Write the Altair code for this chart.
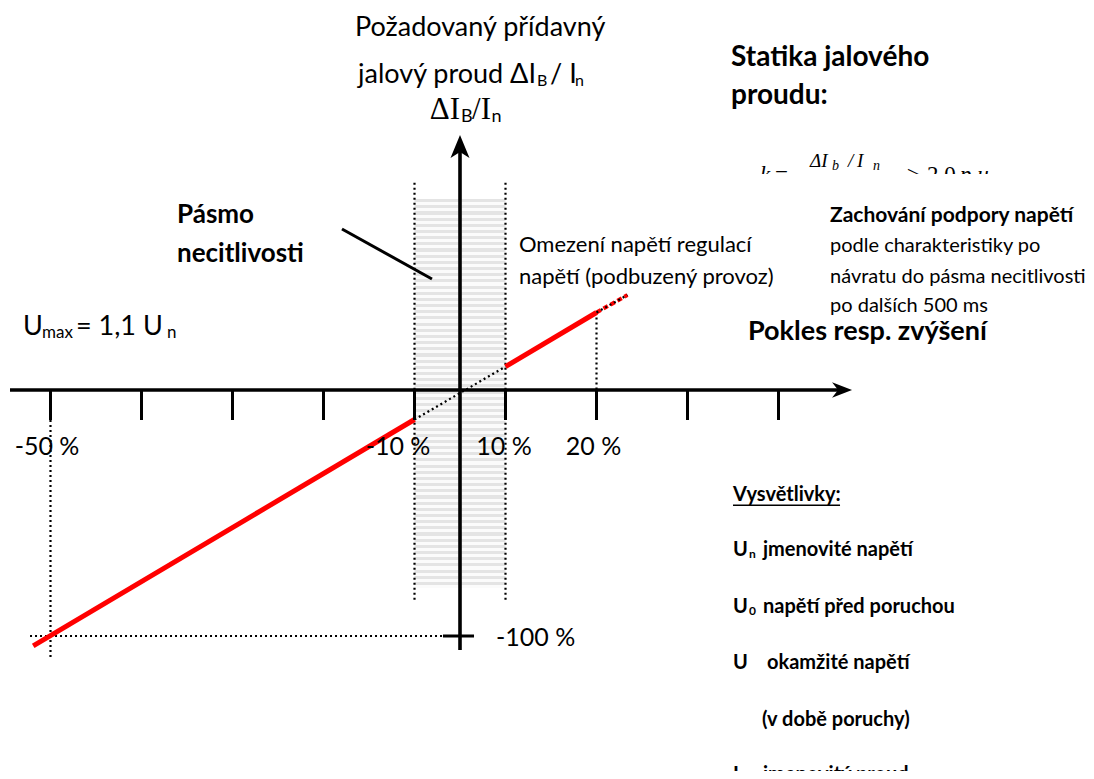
import altair as alt
import pandas as pd

# ---------------- values ----------------
# x in diagram steps (one step = 10 % voltage outside the dead band, 0 = U0)
# y in % of I_n
tick_u = [-4.5, -3.5, -2.5, -1.5, -0.5, 0.5, 1.5, 2.5, 3.5]
x_labels = ["-50 %", "-10 %", "10 %", "20 %"]
x_label_u = [-4.538, -0.681, 0.484, 1.467]
y_label = ["-100 %"]
y_label_v = [-100.8]

red_low_u = [-4.69, -0.5]
red_low_v = [-104.0, -12.0]
red_up_u = [0.5, 1.5]
red_up_v = [9.5, 31.5]
red_ext_u = [1.5, 1.84]
red_ext_v = [31.5, 38.6]
mid_u = [-0.5, 0.5]
mid_v = [-12.0, 9.5]

dead_band_u = [-0.5, 0.5]
dead_band_v = [77.6, -80.5]
dead_edge_v = [84.2, -85.4]

# ---------------- scales (diagram -> pixels) ----------------
W, H = 1078, 763
xs = alt.Scale(domain=[-4.967, 6.879], nice=False, zero=False)
ys = alt.Scale(domain=[-154.88, 155.28], nice=False, zero=False)
SANS = "Lato"
SERIF = "Liberation Serif"


def X(f):
    return alt.X(f"{f}:Q", scale=xs, axis=None)


def Y(f):
    return alt.Y(f"{f}:Q", scale=ys, axis=None)


def rules(rows, **kw):
    df = pd.DataFrame(rows, columns=["u", "v", "u2", "v2"])
    return alt.Chart(df).mark_rule(**kw).encode(
        x=X("u"), y=Y("v"), x2="u2:Q", y2="v2:Q")


def line(us, vs, **kw):
    df = pd.DataFrame({"u": us, "v": vs})
    return alt.Chart(df).mark_line(**kw).encode(x=X("u"), y=Y("v"))


def texts(rows, **kw):
    df = pd.DataFrame(rows, columns=["u", "v", "t"])
    kw.setdefault("align", "left")
    kw.setdefault("baseline", "middle")
    kw.setdefault("color", "black")
    return alt.Chart(df).mark_text(**kw).encode(x=X("u"), y=Y("v"), text="t:N")


DOT = dict(color="black", strokeWidth=2.2, strokeDash=[2, 3])

# dead band with thin horizontal hatching
n_str = 63
stops = []
for i in range(n_str):
    a, b, c = i / n_str, (i + 0.5) / n_str, (i + 1) / n_str
    stops += [{"offset": a, "color": "#e4e4e4"}, {"offset": b, "color": "#e4e4e4"},
              {"offset": b, "color": "#fbfbfb"}, {"offset": c, "color": "#fbfbfb"}]
band_df = pd.DataFrame({"u": [dead_band_u[0]], "u2": [dead_band_u[1]],
                        "v": [dead_band_v[0]], "v2": [dead_band_v[1]]})
band = alt.Chart(band_df).mark_rect(
    fill={"gradient": "linear", "x1": 0, "y1": 0, "x2": 0, "y2": 1, "stops": stops}
).encode(x=X("u"), x2="u2:Q", y=Y("v"), y2="v2:Q")

edges = rules([[u, dead_edge_v[0], u, dead_edge_v[1]] for u in dead_band_u], **DOT)

helpers = rules([
    [1.5, red_up_v[1], 1.5, 0],
    [-4.5, 0, -4.5, -109.8],
    [-4.725, -100, -0.187, -100],
], **DOT)

axes = rules([[-4.945, 0, 4.25, 0], [0, -105.7, 0, 100.0]], color="black", strokeWidth=3.6)
ticks = rules([[u, 0, u, -12.2] for u in tick_u] + [[-0.187, -100, 0.154, -100]],
              color="black", strokeWidth=3)

arrow_x = alt.Chart(pd.DataFrame({"u": [4.308], "v": [0.0]})).mark_point(
    shape="M0,0L-2,-0.78L-1.4,0L-2,0.78Z", size=400, filled=True, color="black",
    opacity=1, strokeWidth=0).encode(x=X("u"), y=Y("v"))
arrow_y = alt.Chart(pd.DataFrame({"u": [0.0], "v": [103.66]})).mark_point(
    shape="M0,0L-0.95,2.3L0,1.7L0.95,2.3Z", size=400, filled=True, color="black",
    opacity=1, strokeWidth=0).encode(x=X("u"), y=Y("v"))

red_lo = line(red_low_u, red_low_v, color="#ff0000", strokeWidth=5)
red_hi = line(red_up_u, red_up_v, color="#ff0000", strokeWidth=5)
red_ex = line(red_ext_u, red_ext_v, color="#ff0000", strokeWidth=4, strokeDash=[5, 3])
dot_ex = line(red_ext_u, red_ext_v, **DOT)
dot_mid = line(mid_u, mid_v, **DOT)

pointer = rules([[-1.297, 65.45, -0.308, 45.12]], color="black", strokeWidth=3)

# ---------------- texts ----------------
t_title = texts([[-1.154, 147.15, "Požadovaný přídavný"]], font=SANS, fontSize=27)
t_title2 = texts([[0.835, 128.05, "jalový proud ΔI"]], font=SANS, fontSize=27, align="right")
t_title3 = texts([[0.99, 128.05, "/ I"]], font=SANS, fontSize=27)
t_title_sub = texts([[0.846, 125.6, "B"], [1.264, 125.6, "n"]], font=SANS, fontSize=16)

t_big1 = texts([[0.0, 113.8, "ΔI"]], font=SERIF, fontSize=31, align="right")
t_big2 = texts([[0.132, 113.8, "/I"]], font=SERIF, fontSize=31)
t_big_sub = texts([[0.011, 111.0, "B"], [0.345, 111.0, "n"]], font=SANS, fontSize=18)

t_stat = texts([[2.978, 134.9, "Statika jalového"], [2.978, 119.5, "proudu:"]],
               font=SANS, fontSize=28, fontWeight="bold")

f_big_i = texts([[3.297, 84.55, "k"], [5.495, 84.55, "p.u."]], font=SERIF, fontSize=23,
                fontStyle="italic", baseline="alphabetic")
f_big_n = texts([[3.462, 84.55, "="], [4.912, 84.55, "≥"], [5.132, 84.55, "2,0"]],
                font=SERIF, fontSize=23, baseline="alphabetic")
f_num = texts([[3.846, 90.65, "ΔI"], [4.264, 90.65, "/"], [4.363, 90.65, "I"]],
              font=SERIF, fontSize=19, fontStyle="italic", baseline="alphabetic")
f_sub = texts([[4.088, 89.43, "b"], [4.538, 89.43, "n"]], font=SERIF, fontSize=14,
              fontStyle="italic", baseline="alphabetic")
cover = alt.Chart(pd.DataFrame({"u": [3.077], "u2": [6.044], "v": [87.8], "v2": [77.2]})
                  ).mark_rect(color="white").encode(x=X("u"), x2="u2:Q", y=Y("v"), y2="v2:Q")

t_pasmo = texts([[-3.11, 71.14, "Pásmo"], [-3.11, 55.28, "necitlivosti"]],
                font=SANS, fontSize=26, fontWeight="bold")

t_umax = texts([[-4.802, 25.6, "U"], [-4.22, 25.6, "= 1,1 U"]], font=SANS, fontSize=27)
t_umax_sub = texts([[-4.593, 23.2, "max"], [-3.22, 23.2, "n"]], font=SANS, fontSize=17)

t_omez = texts([[0.648, 58.94, "Omezení napětí regulací"],
                [0.648, 45.93, "napětí (podbuzený provoz)"]], font=SANS, fontSize=22)

t_zach_b = texts([[4.066, 70.73, "Zachování podpory napětí"]], font=SANS, fontSize=21,
                 fontWeight="bold")
t_zach = texts([[4.066, 58.54, "podle charakteristiky po"],
                [4.066, 46.0, "návratu do pásma necitlivosti"],
                [4.066, 34.0, "po dalších 500 ms"]], font=SANS, fontSize=20)

t_pokles = texts([[3.165, 23.6, "Pokles resp. zvýšení"]], font=SANS, fontSize=27,
                 fontWeight="bold")

t_xlab = texts([[u, -23.17, s] for u, s in zip(x_label_u, x_labels)], font=SANS,
               fontSize=25, align="center")
t_ylab = texts([[0.396, v, s] for v, s in zip(y_label_v, y_label)], font=SANS, fontSize=25)

LEG = dict(font=SANS, fontWeight="bold", fontSize=20)
t_leg = texts([
    [3.0, -42.68, "Vysvětlivky:"],
    [3.0, -65.04, "U"], [3.33, -65.04, "jmenovité napětí"],
    [3.0, -88.21, "U"], [3.33, -88.21, "napětí před poruchou"],
    [3.0, -110.98, "U"], [3.374, -110.98, "okamžité napětí"],
    [3.319, -134.15, "(v době poruchy)"],
    [3.0, -156.5, "I"], [3.33, -156.5, "jmenovitý proud"],
], **LEG)
t_leg_sub = texts([[3.175, -66.67, "n"], [3.175, -89.84, "0"], [3.077, -158.1, "n"]],
                  font=SANS, fontWeight="bold", fontSize=12)
underline = rules([[3.0, -46.9, 4.176, -46.9]], color="black", strokeWidth=1.5)

chart = alt.layer(
    band, edges, helpers, dot_mid, red_lo, red_hi, red_ex, dot_ex,
    axes, ticks, arrow_x, arrow_y, pointer,
    t_title, t_title2, t_title3, t_title_sub, t_big1, t_big2, t_big_sub, t_stat,
    f_big_i, f_big_n, f_num, f_sub, cover,
    t_pasmo, t_umax, t_umax_sub, t_omez, t_zach_b, t_zach, t_pokles,
    t_xlab, t_ylab, t_leg, t_leg_sub, underline,
).properties(
    width=W, height=H, autosize=alt.AutoSizeParams(type="none"), padding=0,
    background="white",
).configure_view(strokeWidth=0)

chart.save("out.html", embed_options={"renderer": "svg", "actions": False})
